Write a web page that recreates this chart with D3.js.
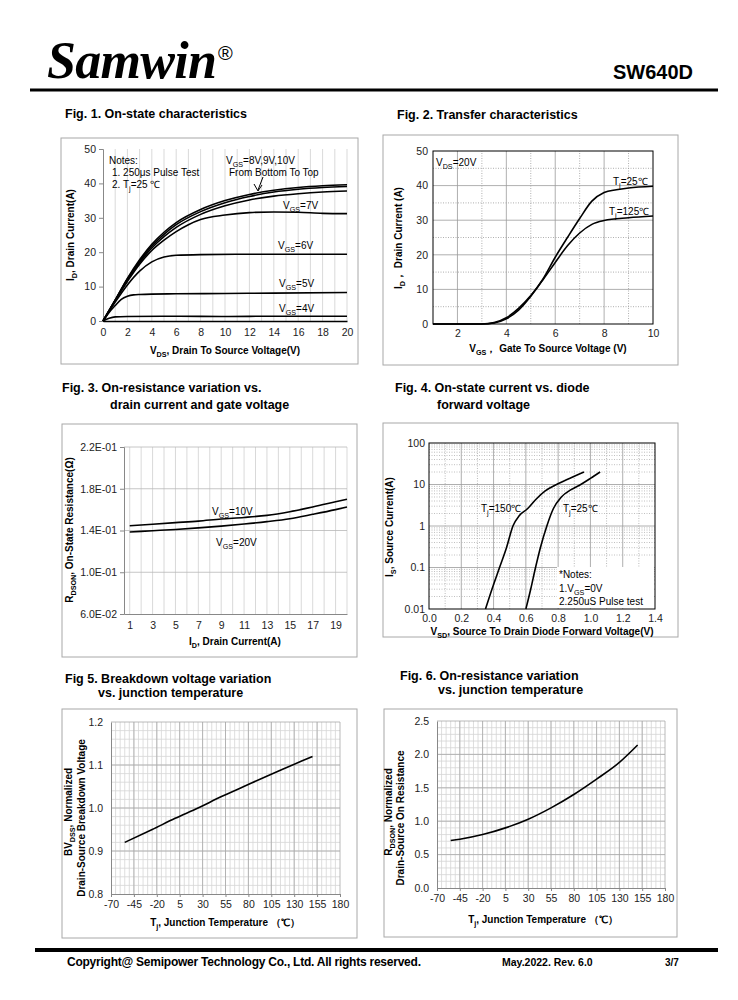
<!DOCTYPE html>
<html><head><meta charset="utf-8">
<script src="https://cdnjs.cloudflare.com/ajax/libs/d3/7.8.5/d3.min.js"></script>
<style>
body{margin:0;background:#fff}
svg{font-family:"Liberation Sans",Arial,sans-serif}
.frame{fill:none;stroke:#a8a8a8;stroke-width:1}
.curve{fill:none;stroke:#000;stroke-width:1.6}
.title{font-weight:bold;font-size:12.5px}
.lab{font-weight:bold;font-size:10px}
.note{font-size:10px}
.tick text{font-size:10.5px;fill:#222;font-family:"Liberation Sans",Arial,sans-serif}
</style></head><body><script>

// Fig 1: I_D vs V_DS for each V_GS
var fig1Vgs4  = [[0,0],[0.5,0.8],[1,1.2],[2,1.3],[6,1.4],[10,1.3],[14,1.4],[20,1.4]];
var fig1Vgs5  = [[0,0],[0.5,2.5],[1,4.5],[1.5,6.3],[2,7.2],[2.5,7.6],[3,7.7],[6,7.9],[10,8.0],[14,8.1],[20,8.3]];
var fig1Vgs6  = [[0,0],[1,5.5],[2,10.5],[3,14.5],[4,17.2],[5,18.6],[6,19.1],[8,19.3],[12,19.4],[16,19.4],[20,19.4]];
var fig1Vgs7  = [[0,0],[1,6],[2,11.5],[3,16.5],[4,20.5],[5,23.5],[6,26],[7,28],[8,29.5],[10,30.8],[12,31.5],[14,31.7],[16,31.6],[18,31.3],[20,31.2]];
var fig1Vgs8  = [[0,0],[1,6],[2,12],[3,17],[4,21.2],[5,24.5],[6,27.2],[8,31],[10,33.5],[12,35.2],[14,36.3],[16,37],[18,37.5],[20,37.8]];
var fig1Vgs9  = [[0,0],[1,6],[2,12.2],[3,17.4],[4,21.8],[5,25.2],[6,28],[8,31.8],[10,34.4],[12,36.2],[14,37.5],[16,38.3],[18,38.8],[20,39.1]];
var fig1Vgs10 = [[0,0],[1,6.1],[2,12.4],[3,17.8],[4,22.3],[5,25.8],[6,28.6],[8,32.4],[10,35],[12,36.8],[14,38],[16,38.8],[18,39.3],[20,39.6]];
var fig1XTicks = [0,2,4,6,8,10,12,14,16,18,20];
var fig1YTicks = [0,10,20,30,40,50];

// Fig 2: transfer
var fig2Tj25  = [[1,0],[3,0],[3.5,0.3],[4,1.5],[4.5,4],[5,8],[5.5,13],[6,19.3],[6.5,25],[7,30.5],[7.5,35.5],[8,38],[8.5,38.8],[9,39.3],[10,39.8]];
var fig2Tj125 = [[1,0],[3,0],[3.5,0.4],[4,1.8],[4.5,4.5],[5,8.2],[5.5,12.8],[6,17.8],[6.5,22.6],[7,26.3],[7.5,28.8],[8,29.9],[9,30.7],[10,31.2]];
var fig2XTicks = [2,4,6,8,10];
var fig2YTicks = [0,10,20,30,40,50];

// Fig 3: Rdson vs I_D
var fig3Vgs10 = [[1,0.1445],[3,0.146],[5,0.1475],[7,0.149],[9,0.151],[11,0.1525],[13,0.1545],[15,0.158],[17,0.1625],[19,0.1675],[20,0.170]];
var fig3Vgs20 = [[1,0.1386],[3,0.1398],[5,0.141],[7,0.1425],[9,0.1442],[11,0.1462],[13,0.1485],[15,0.1513],[17,0.1555],[19,0.160],[20,0.1625]];
var fig3XTicks = [1,3,5,7,9,11,13,15,17,19];
var fig3YTicks = [0.06,0.10,0.14,0.18,0.22];

// Fig 4: body diode
var fig4Tj150 = [[0.35,0.01],[0.39,0.03],[0.437,0.1],[0.48,0.3],[0.52,1],[0.56,1.8],[0.61,2.6],[0.66,4.3],[0.72,7],[0.79,10],[0.87,14],[0.96,20]];
var fig4Tj25  = [[0.60,0.01],[0.63,0.03],[0.66,0.1],[0.69,0.3],[0.73,1],[0.77,2.6],[0.82,5],[0.88,7.5],[0.94,10],[1.0,14],[1.06,20]];
var fig4XTicks = [0,0.2,0.4,0.6,0.8,1.0,1.2,1.4];
var fig4YTicks = [0.01,0.1,1,10,100];
var fig4YLabels = ["0.01","0.1","1","10","100"];

// Fig 5: BVdss vs Tj
var fig5BV = [[-55,0.92],[-25,0.95],[0,0.976],[25,1.0],[50,1.026],[75,1.05],[100,1.074],[125,1.097],[150,1.12]];
var fig5YTicks = [0.8,0.9,1.0,1.1,1.2];
// Fig 6: Rdson vs Tj
var fig6R = [[-55,0.71],[-45,0.73],[-20,0.8],[5,0.9],[30,1.03],[55,1.2],[80,1.4],[105,1.63],[130,1.88],[150,2.14]];
var fig6YTicks = [0,0.5,1.0,1.5,2.0,2.5];
var tempTicks = [-70,-45,-20,5,30,55,80,105,130,155,180];

var svg = d3.select("body").append("svg").attr("width",738).attr("height",1000);

// rich text with subscripts: parts = [[text, isSub], ...]
function rich(t, parts) {
  var shift = 0;
  parts.forEach(function(p){
    var s = t.append("tspan").text(p[0]);
    var want = p[1] ? 3 : 0;
    if (want != shift) s.attr("dy", want - shift);
    if (p[1]) s.attr("font-size","0.72em");
    shift = want;
  });
  return t;
}
function txt(x, y, cls) {
  return svg.append("text").attr("x",x).attr("y",y).attr("class",cls||null);
}
function vtxt(x, y, cls) {
  return svg.append("text").attr("transform","translate("+x+","+y+") rotate(-90)")
            .attr("text-anchor","middle").attr("class",cls||null);
}
function frame(x, y, w, h) {
  svg.append("rect").attr("class","frame").attr("x",x).attr("y",y).attr("width",w).attr("height",h);
}
function vgrid(g, xs, xv, y0, y1, col, dash) {
  g.selectAll(null).data(xv).enter().append("line")
    .attr("x1",function(d){return xs(d);}).attr("x2",function(d){return xs(d);})
    .attr("y1",y0).attr("y2",y1).attr("stroke",col).attr("stroke-width",0.8)
    .attr("stroke-dasharray",dash||null);
}
function hgrid(g, ys, yv, x0, x1, col, dash) {
  g.selectAll(null).data(yv).enter().append("line")
    .attr("y1",function(d){return ys(d);}).attr("y2",function(d){return ys(d);})
    .attr("x1",x0).attr("x2",x1).attr("stroke",col).attr("stroke-width",0.8)
    .attr("stroke-dasharray",dash||null);
}
function curve(xs, ys, data, w) {
  var line = d3.line().x(function(d){return xs(d[0]);}).y(function(d){return ys(d[1]);})
               .curve(d3.curveMonotoneX);
  svg.append("path").attr("class","curve").attr("d",line(data)).attr("stroke-width",w||1.6);
}
function styleAxis(g, col) {
  g.select(".domain").attr("stroke",col);
  g.selectAll(".tick line").attr("stroke",col);
}
var plain = function(d){ return String(d); };   // keeps the ASCII hyphen for negatives

// ---------- header / footer ----------
txt(47,78).text("Samwin").attr("font-family","'Liberation Serif',serif").attr("font-weight","bold")
  .attr("font-style","italic").attr("font-size",52).attr("textLength",170);
txt(218,60).text("®").attr("font-size",20);
txt(693,79).text("SW640D").attr("font-weight","bold").attr("font-size",20).attr("text-anchor","end");
svg.append("line").attr("x1",30).attr("x2",718).attr("y1",90).attr("y2",90).attr("stroke","#000").attr("stroke-width",3);

svg.append("line").attr("x1",35).attr("x2",718).attr("y1",950).attr("y2",950).attr("stroke","#000").attr("stroke-width",4);
txt(67,966).text("Copyright@ Semipower Technology Co., Ltd. All rights reserved.").attr("font-weight","bold")
  .attr("font-size",12).attr("textLength",354);
txt(502,966).text("May.2022. Rev. 6.0").attr("font-weight","bold").attr("font-size",10.5);
txt(665,966).text("3/7").attr("font-weight","bold").attr("font-size",10);

// ---------- titles ----------
txt(65,118,"title").text("Fig. 1. On-state characteristics");
txt(397,119,"title").text("Fig. 2. Transfer characteristics");
txt(62,392,"title").text("Fig. 3. On-resistance variation vs.");
txt(110,409,"title").text("drain current and gate voltage");
txt(395,392,"title").text("Fig. 4. On-state current vs. diode");
txt(437,409,"title").text("forward voltage");
txt(65,683,"title").text("Fig 5. Breakdown voltage variation");
txt(98,697,"title").text("vs. junction temperature");
txt(400,680,"title").text("Fig. 6. On-resistance variation");
txt(438,694,"title").text("vs. junction temperature");

// ---------- Fig 1 ----------
frame(61,138,297,226);
var x1 = d3.scaleLinear().domain([0,20]).range([103,347]);
var y1 = d3.scaleLinear().domain([0,50]).range([321,149]);
var g1 = svg.append("g");
vgrid(g1, x1, d3.range(1,21), y1(0), y1(50), "#cfcfcf");
var ax = svg.append("g").attr("transform","translate(103,0)")
  .call(d3.axisLeft(y1).tickValues(fig1YTicks).tickSize(4).tickPadding(3));
styleAxis(ax,"#888");
ax = svg.append("g").attr("transform","translate(0,321)")
  .call(d3.axisBottom(x1).tickValues(fig1XTicks).tickSize(0).tickPadding(8));
styleAxis(ax,"#000"); ax.select(".domain").attr("stroke-width",1.6);
[fig1Vgs4,fig1Vgs5,fig1Vgs6,fig1Vgs7,fig1Vgs8,fig1Vgs9,fig1Vgs10].forEach(function(c){ curve(x1,y1,c,1.5); });
txt(109,164,"note").text("Notes:");
txt(112,176,"note").text("1. 250μs  Pulse Test");
rich(txt(112,188,"note"),[["2. T",0],["j",1],["=25 ℃",0]]);
rich(txt(226,164,"note"),[["V",0],["GS",1],["=8V,9V,10V",0]]);
txt(229,176,"note").text("From Bottom To Top");
svg.append("line").attr("x1",263).attr("y1",177).attr("x2",258).attr("y2",190).attr("stroke","#000").attr("stroke-width",1);
svg.append("path").attr("d","M254,184 L258,191 L262,185").attr("fill","none").attr("stroke","#000");
rich(txt(283,209,"note"),[["V",0],["GS",1],["=7V",0]]);
rich(txt(278,249,"note"),[["V",0],["GS",1],["=6V",0]]);
rich(txt(279,287,"note"),[["V",0],["GS",1],["=5V",0]]);
rich(txt(279,312,"note"),[["V",0],["GS",1],["=4V",0]]);
rich(txt(225,354,"lab").attr("text-anchor","middle"),[["V",0],["DS",1],[", Drain To Source Voltage(V)",0]]);
rich(vtxt(74,235,"lab"),[["I",0],["D",1],[",  Drain Current(A)",0]]);

// ---------- Fig 2 ----------
frame(383,135,295,230);
var x2 = d3.scaleLinear().domain([1,10]).range([433,653]);
var y2 = d3.scaleLinear().domain([0,50]).range([324,151]);
var g2 = svg.append("g");
vgrid(g2, x2, [2,4,6,8], y2(0), y2(50), "#9a9a9a");
vgrid(g2, x2, [3,5,7,9], y2(0), y2(50), "#9a9a9a", "1,1.5");
hgrid(g2, y2, [10,20,30,40], x2(1), x2(10), "#9a9a9a");
hgrid(g2, y2, [5,15,25,35,45], x2(1), x2(10), "#9a9a9a", "1,1.5");
svg.append("rect").attr("x",x2(1)).attr("y",y2(50)).attr("width",x2(10)-x2(1)).attr("height",y2(0)-y2(50))
  .attr("fill","none").attr("stroke","#000");
ax = svg.append("g").attr("transform","translate(433,0)")
  .call(d3.axisLeft(y2).tickValues(fig2YTicks).tickSize(0).tickPadding(5));
ax.select(".domain").remove(); ax.selectAll(".tick text").attr("font-size",12);
ax = svg.append("g").attr("transform","translate(0,324)")
  .call(d3.axisBottom(x2).tickValues(fig2XTicks).tickSize(0).tickPadding(6));
ax.select(".domain").remove(); ax.selectAll(".tick text").attr("font-size",12);
curve(x2,y2,fig2Tj25,1.4);
curve(x2,y2,fig2Tj125,1.4);
rich(txt(436,166,"note"),[["V",0],["DS",1],["=20V",0]]);
rich(txt(613,185,"note"),[["T",0],["j",1],["=25℃",0]]);
rich(txt(609,215,"note"),[["T",0],["j",1],["=125℃",0]]);
rich(txt(548,352,"lab").attr("text-anchor","middle"),[["V",0],["GS",1],["，  Gate To Source Voltage (V)",0]]);
rich(vtxt(402,238,"lab"),[["I",0],["D",1],["，  Drain Current (A)",0]]);

// ---------- Fig 3 ----------
frame(62,424,295,233);
var x3 = d3.scaleLinear().domain([0.5,20]).range([124,347]);
var y3 = d3.scaleLinear().domain([0.06,0.22]).range([614,447]);
var g3 = svg.append("g");
vgrid(g3, x3, d3.range(1,21), y3(0.06), y3(0.22), "#cfcfcf");
hgrid(g3, y3, [0.10,0.14,0.18,0.22], x3(0.5), x3(20), "#b8b8b8");
ax = svg.append("g").attr("transform","translate(124,0)")
  .call(d3.axisLeft(y3).tickValues(fig3YTicks).tickSize(4).tickPadding(3)
    .tickFormat(function(d){ var s = d.toExponential(1).toUpperCase().split("E"); var e = +s[1];
      return s[0] + "E" + (e < 0 ? "-" : "+") + ("0" + Math.abs(e)).slice(-2); }));
styleAxis(ax,"#888");
ax = svg.append("g").attr("transform","translate(0,614)")
  .call(d3.axisBottom(x3).tickValues(fig3XTicks).tickSize(0).tickPadding(8));
styleAxis(ax,"#888");
curve(x3,y3,fig3Vgs10,1.6);
curve(x3,y3,fig3Vgs20,1.6);
rich(txt(212,515,"note"),[["V",0],["GS",1],["=10V",0]]);
rich(txt(216,546,"note"),[["V",0],["GS",1],["=20V",0]]);
rich(txt(235,645,"lab").attr("text-anchor","middle"),[["I",0],["D",1],[", Drain Current(A)",0]]);
rich(vtxt(73,530,"lab"),[["R",0],["DSON",1],[", On-State Resistance(Ω)",0]]);

// ---------- Fig 4 ----------
frame(383,423,295,214);
var x4 = d3.scaleLinear().domain([0,1.4]).range([429,655]);
var y4 = d3.scaleLog().domain([0.01,100]).range([609,443]);
var g4 = svg.append("g");
vgrid(g4, x4, [0.2,0.4,0.6,0.8,1.0,1.2], y4(0.01), y4(100), "#9a9a9a");
vgrid(g4, x4, [0.1,0.3,0.5,0.7,0.9,1.1,1.3], y4(0.01), y4(100), "#aaa", "1,1.5");
var minors = [];
[0.01,0.1,1,10].forEach(function(dec){ for (var k = 2; k < 10; k++) minors.push(dec*k); });
hgrid(g4, y4, minors, x4(0), x4(1.4), "#b0b0b0", "1,1.5");
hgrid(g4, y4, [0.1,1,10], x4(0), x4(1.4), "#9a9a9a");
svg.append("rect").attr("x",x4(0)).attr("y",y4(100)).attr("width",x4(1.4)-x4(0)).attr("height",y4(0.01)-y4(100))
  .attr("fill","none").attr("stroke","#000");
ax = svg.append("g").attr("transform","translate(429,0)")
  .call(d3.axisLeft(y4).tickValues(fig4YTicks).tickSize(0).tickPadding(4)
    .tickFormat(function(d,i){ return fig4YLabels[i]; }));
ax.select(".domain").remove(); ax.selectAll(".tick text").attr("font-size",11);
ax = svg.append("g").attr("transform","translate(0,609)")
  .call(d3.axisBottom(x4).tickValues(fig4XTicks).tickSize(0).tickPadding(6).tickFormat(d3.format(".1f")));
ax.select(".domain").remove(); ax.selectAll(".tick text").attr("font-size",11.5);
curve(x4,y4,fig4Tj150,1.2);
curve(x4,y4,fig4Tj25,1.2);
rich(txt(481,512,"note").attr("font-size",11),[["T",0],["j",1],["=150℃",0]]);
rich(txt(563,512,"note").attr("font-size",11),[["T",0],["j",1],["=25℃",0]]);
svg.append("rect").attr("x",557).attr("y",567).attr("width",97).attr("height",41).attr("fill","#fff");
txt(559,578,"note").text("*Notes:");
rich(txt(559,592,"note"),[["1.V",0],["GS",1],["=0V",0]]);
txt(559,605,"note").text("2.250uS Pulse test");
rich(txt(542,635,"lab").attr("text-anchor","middle").attr("font-size",11),[["V",0],["SD",1],[", Source To Drain Diode Forward Voltage(V)",0]]);
rich(vtxt(393,527,"lab").attr("font-size",11),[["I",0],["S",1],[", Source Current(A)",0]]);

// ---------- Fig 5 ----------
frame(62,709,295,229);
var x5 = d3.scaleLinear().domain([-70,180]).range([111,340]);
var y5 = d3.scaleLinear().domain([0.8,1.2]).range([894,722]);
var g5 = svg.append("g");
vgrid(g5, x5, d3.range(-65,180,5), y5(0.8), y5(1.2), "#d6d6d6");
hgrid(g5, y5, d3.range(41,60).map(function(i){return i*0.02;}), x5(-70), x5(180), "#d6d6d6");
vgrid(g5, x5, tempTicks.slice(1), y5(0.8), y5(1.2), "#a8a8a8");
hgrid(g5, y5, [0.9,1.0,1.1,1.2], x5(-70), x5(180), "#a8a8a8");
ax = svg.append("g").attr("transform","translate(111,0)")
  .call(d3.axisLeft(y5).tickValues(fig5YTicks).tickSize(0).tickPadding(8).tickFormat(d3.format(".1f")));
styleAxis(ax,"#888"); ax.selectAll(".tick text").attr("font-size",11);
ax = svg.append("g").attr("transform","translate(0,894)")
  .call(d3.axisBottom(x5).tickValues(tempTicks).tickSize(3).tickPadding(4).tickFormat(plain));
styleAxis(ax,"#888"); ax.selectAll(".tick text").attr("font-size",11);
curve(x5,y5,fig5BV,1.6);
rich(txt(225,926,"lab").attr("text-anchor","middle"),[["T",0],["j",1],[", Junction Temperature （℃）",0]]);
rich(vtxt(72,812,"lab"),[["BV",0],["DSS",1],[", Normalized",0]]);
vtxt(85,818,"lab").text("Drain-Source Breakdown Voltage");

// ---------- Fig 6 ----------
frame(384,709,293,228);
var x6 = d3.scaleLinear().domain([-70,180]).range([437,665]);
var y6 = d3.scaleLinear().domain([0,2.5]).range([888,721]);
var g6 = svg.append("g");
vgrid(g6, x6, d3.range(-65,180,5), y6(0), y6(2.5), "#d6d6d6");
hgrid(g6, y6, d3.range(1,25).map(function(i){return i*0.1;}), x6(-70), x6(180), "#d6d6d6");
vgrid(g6, x6, tempTicks.slice(1), y6(0), y6(2.5), "#a8a8a8");
hgrid(g6, y6, [0.5,1.0,1.5,2.0,2.5], x6(-70), x6(180), "#a8a8a8");
ax = svg.append("g").attr("transform","translate(437,0)")
  .call(d3.axisLeft(y6).tickValues(fig6YTicks).tickSize(0).tickPadding(8).tickFormat(d3.format(".1f")));
styleAxis(ax,"#888"); ax.selectAll(".tick text").attr("font-size",11);
ax = svg.append("g").attr("transform","translate(0,888)")
  .call(d3.axisBottom(x6).tickValues(tempTicks).tickSize(3).tickPadding(4).tickFormat(plain));
styleAxis(ax,"#888"); ax.selectAll(".tick text").attr("font-size",11);
curve(x6,y6,fig6R,1.6);
rich(txt(543,923,"lab").attr("text-anchor","middle"),[["T",0],["j",1],[", Junction Temperature （℃）",0]]);
rich(vtxt(392,812,"lab"),[["R",0],["DSON",1],[", Normalized",0]]);
vtxt(404,818,"lab").text("Drain-Source On Resistance");

</script></body></html>
